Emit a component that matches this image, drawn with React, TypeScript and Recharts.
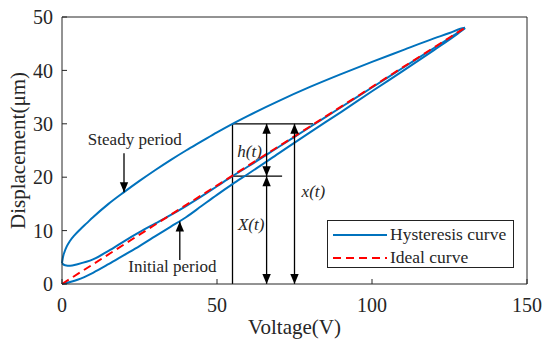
import React from "react";
import {
  ComposedChart,
  Line,
  XAxis,
  YAxis,
  ReferenceLine,
  ReferenceDot,
  Legend,
} from "recharts";

const FONT = "'Liberation Serif', 'Times New Roman', serif";
const BLUE = "#0072BD";
const RED = "#FF0000";
const INK = "#262626";

const X_TICKS = [0, 50, 100, 150];
const Y_TICKS = [0, 10, 20, 30, 40, 50];

// hysteresis loop, split in three branches (each one monotone in voltage)
const initialVolt = [0, 5, 10, 15, 20, 25, 30, 35, 40, 45, 50, 55, 60, 70, 80, 90, 100, 110, 120, 127, 130];
const initialDisp = [0, 0.8, 2.1, 3.7, 5.4, 7.1, 8.9, 10.7, 12.5, 14.6, 16.7, 18.7, 20.6, 24.5, 28.4, 32.2, 36.1, 39.9, 43.8, 46.6, 47.9];

const steadyUpVolt = [0, 1, 2.6, 5, 10, 15, 20, 25, 30, 35, 40, 45, 50, 55, 60, 70, 80, 90, 100, 110, 120, 127, 130];
const steadyUpDisp = [3.9, 3.5, 3.4, 3.7, 4.6, 6.2, 8, 9.7, 11.3, 12.9, 14.6, 16.4, 18.3, 20.2, 22, 25.7, 29.4, 33.1, 36.8, 40.5, 44.2, 46.8, 48];

const steadyDownVolt = [0, 0.3, 0.8, 1.5, 2.5, 4, 6, 8, 10, 15, 20, 25, 30, 35, 40, 45, 50, 55, 60, 70, 80, 90, 100, 110, 120, 125, 128.5, 130];
const steadyDownDisp = [3.9, 5, 6, 7, 8, 9.1, 10.3, 11.4, 12.5, 15, 17.2, 19.3, 21.3, 23.2, 25, 26.7, 28.4, 30, 31.5, 34.3, 36.9, 39.3, 41.6, 43.8, 46, 47, 47.8, 48];

const idealVolt = [0, 10, 30, 55, 80, 110, 130];
const idealDisp = [0, 3.7, 11.1, 20.3, 29.5, 40.6, 48];

// annotation geometry (data units)
const GUIDES = [
  { x1: 55, y1: 0, x2: 55, y2: 30 },
  { x1: 55, y1: 30, x2: 81, y2: 30 },
  { x1: 55, y1: 20.2, x2: 71, y2: 20.2 },
];
const ARROWS = [
  { x1: 66, y1: 20.2, x2: 66, y2: 30, both: true },
  { x1: 66, y1: 0, x2: 66, y2: 20.2, both: true },
  { x1: 75, y1: 0, x2: 75, y2: 30, both: true },
  { x1: 20, y1: 24.5, x2: 20, y2: 17.2, both: false },
  { x1: 38, y1: 4.5, x2: 38, y2: 11.7, both: false },
];
const NOTES = [
  { text: "Steady period", x: 23.5, y: 26.0, italic: false },
  { text: "Initial period", x: 35.6, y: 2.3, italic: false },
  { text: "h(t)", x: 60.5, y: 23.8, italic: true },
  { text: "X(t)", x: 61, y: 10.1, italic: true },
  { text: "x(t)", x: 81.1, y: 16.3, italic: true },
];

const toPoints = (xs: number[], ys: number[]) => xs.map((v, i) => ({ v, d: ys[i] }));

function head(tx: number, ty: number, fx: number, fy: number) {
  const len = Math.hypot(tx - fx, ty - fy) || 1;
  const ux = (tx - fx) / len;
  const uy = (ty - fy) / len;
  const L = 10;
  const W = 4.2;
  const bx = tx - ux * L;
  const by = ty - uy * L;
  return `${tx},${ty} ${bx - uy * W},${by + ux * W} ${bx + uy * W},${by - ux * W}`;
}

const arrowShape = (both: boolean) => (p: any) => {
  const { x1, y1, x2, y2 } = p;
  return (
    <g>
      <line x1={x1} y1={y1} x2={x2} y2={y2} stroke="#000" strokeWidth={1.3} />
      <polygon points={head(x2, y2, x1, y1)} fill="#000" />
      {both && <polygon points={head(x1, y1, x2, y2)} fill="#000" />}
    </g>
  );
};

const noteShape = (text: string, italic: boolean) => (p: any) => (
  <text
    x={p.cx}
    y={p.cy}
    textAnchor="middle"
    style={{ fontFamily: FONT, fontSize: 17, fontStyle: italic ? "italic" : "normal" }}
    fill={INK}
  >
    {text}
  </text>
);

function LegendBox(props: any) {
  const seen = new Set<string>();
  const items = (props.payload || []).filter((p: any) => {
    if (p.type === "none" || seen.has(p.value)) return false;
    seen.add(p.value);
    return true;
  });
  return (
    <div
      style={{
        boxSizing: "border-box",
        width: 187,
        height: 48,
        border: "1px solid #222",
        background: "#fff",
        padding: "2px 0 0 5px",
        fontFamily: FONT,
        fontSize: 17.5,
        color: INK,
      }}
    >
      {items.map((p: any) => (
        <div key={p.value} style={{ display: "flex", alignItems: "center", height: 23 }}>
          <svg width={54} height={10}>
            <line
              x1={0}
              y1={5}
              x2={54}
              y2={5}
              stroke={p.color}
              strokeWidth={2}
              strokeDasharray={p.payload?.strokeDasharray}
            />
          </svg>
          <span style={{ marginLeft: 3 }}>{p.value}</span>
        </div>
      ))}
    </div>
  );
}

export default function App() {
  const tickStyle = { fontSize: 20, fill: INK, style: { fontFamily: FONT } };
  return (
    <div style={{ position: "absolute", left: 0, top: 0, background: "#fff", fontFamily: FONT }}>
      <ComposedChart
        width={550}
        height={352}
        margin={{ top: 16, right: 22, bottom: 0, left: 0 }}
        style={{ fontFamily: FONT }}
      >
        <XAxis
          type="number"
          dataKey="v"
          domain={[0, 150]}
          ticks={X_TICKS}
          height={68}
          tickSize={-5}
          tickMargin={19}
          stroke={INK}
          tick={tickStyle}
          label={{
            value: "Voltage(V)",
            position: "insideBottom",
            offset: 18,
            style: { fontSize: 21, fontFamily: FONT, fill: INK },
          }}
        />
        <XAxis
          xAxisId="top"
          orientation="top"
          type="number"
          domain={[0, 150]}
          ticks={X_TICKS}
          height={1}
          tickSize={-5}
          tick={false}
          stroke={INK}
          allowDataOverflow
        />
        <YAxis
          type="number"
          domain={[0, 50]}
          ticks={Y_TICKS}
          width={62}
          tickSize={-5}
          tickMargin={14}
          stroke={INK}
          tick={tickStyle}
          label={{
            value: "Displacement(μm)",
            angle: -90,
            position: "insideLeft",
            offset: 18,
            style: { fontSize: 21, fontFamily: FONT, fill: INK, textAnchor: "middle" },
          }}
        />
        <YAxis
          yAxisId="right"
          orientation="right"
          type="number"
          domain={[0, 50]}
          ticks={Y_TICKS}
          width={1}
          tickSize={-5}
          tick={false}
          stroke={INK}
          allowDataOverflow
        />

        {GUIDES.map((g, i) => (
          <ReferenceLine
            key={`g${i}`}
            segment={[{ x: g.x1, y: g.y1 }, { x: g.x2, y: g.y2 }]}
            stroke="#000"
            strokeWidth={1.3}
          />
        ))}

        <Line
          name="Hysteresis curve"
          data={toPoints(initialVolt, initialDisp)}
          dataKey="d"
          type="monotone"
          stroke={BLUE}
          strokeWidth={2}
          dot={false}
          isAnimationActive={false}
        />
        <Line
          name="Hysteresis curve"
          legendType="none"
          data={toPoints(steadyUpVolt, steadyUpDisp)}
          dataKey="d"
          type="monotone"
          stroke={BLUE}
          strokeWidth={2}
          dot={false}
          isAnimationActive={false}
        />
        <Line
          name="Hysteresis curve"
          legendType="none"
          data={toPoints(steadyDownVolt, steadyDownDisp)}
          dataKey="d"
          type="monotone"
          stroke={BLUE}
          strokeWidth={2}
          dot={false}
          isAnimationActive={false}
        />
        <Line
          name="Ideal curve"
          data={toPoints(idealVolt, idealDisp)}
          dataKey="d"
          type="linear"
          stroke={RED}
          strokeWidth={2}
          strokeDasharray="8 5"
          dot={false}
          isAnimationActive={false}
        />

        {ARROWS.map((a, i) => (
          <ReferenceLine
            key={`a${i}`}
            segment={[{ x: a.x1, y: a.y1 }, { x: a.x2, y: a.y2 }]}
            shape={arrowShape(a.both)}
          />
        ))}
        {NOTES.map((n, i) => (
          <ReferenceDot key={`n${i}`} x={n.x} y={n.y} r={1} shape={noteShape(n.text, n.italic)} />
        ))}

        <Legend
          layout="vertical"
          align="center"
          verticalAlign="middle"
          width={187}
          height={48}
          wrapperStyle={{ left: 327, top: 220 }}
          content={<LegendBox />}
        />
      </ComposedChart>
    </div>
  );
}
